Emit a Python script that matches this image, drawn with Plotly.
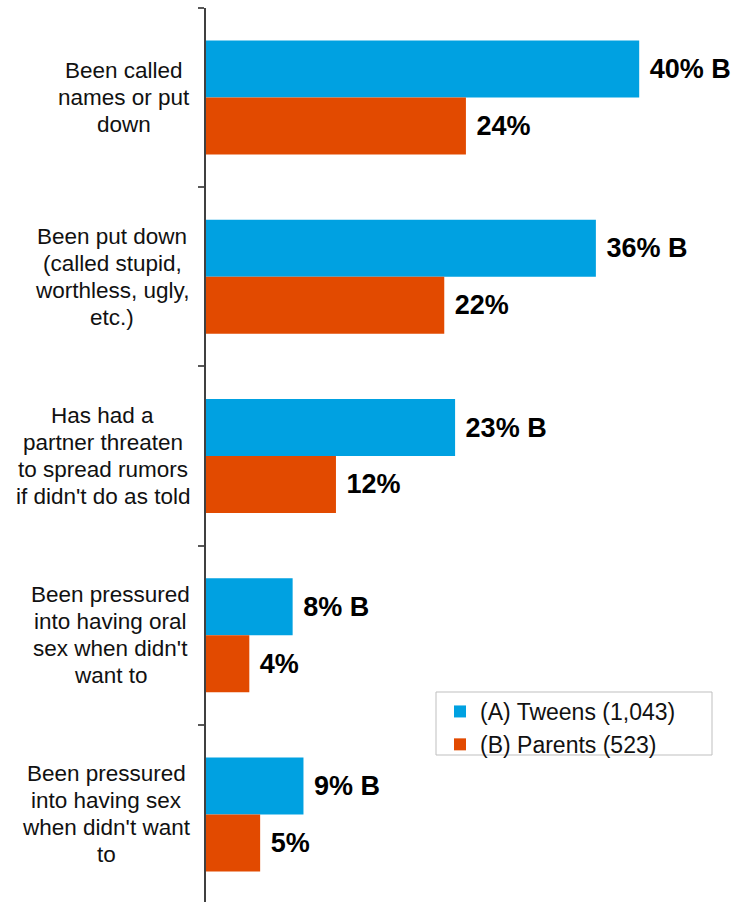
import plotly.graph_objects as go

categories = [
    "Been called<br>names or put<br>down",
    "Been put down<br>(called stupid,<br>worthless, ugly,<br>etc.)",
    "Has had a<br>partner threaten<br>to spread rumors<br>if didn't do as told",
    "Been pressured<br>into having oral<br>sex when didn't<br>want to",
    "Been pressured<br>into having sex<br>when didn't want<br>to",
]
tweens = [40, 36, 23, 8, 9]
parents = [24, 22, 12, 4, 5]
tween_labels = ["40% B", "36% B", "23% B", "8% B", "9% B"]
parent_labels = ["24%", "22%", "12%", "4%", "5%"]
series_names = ["(A) Tweens (1,043)", "(B) Parents (523)"]

BLUE = "#00A1E1"
ORANGE = "#E24A00"
FONT = "Liberation Sans, Arial, sans-serif"

W, H = 731, 902
ML, MR, MT, MB = 206, 0, 8, 0
PW = W - ML - MR
PH = H - MT - MB
BAND = 179.2

# Arial / Liberation Sans advance widths (per 1000 em) for label layout
CW = {c: 556 for c in "abdeghnopqu"}
CW.update({"c": 500, "f": 278, "i": 222, "j": 222, "k": 500, "l": 222, "m": 833,
           "r": 333, "s": 500, "t": 278, "v": 500, "w": 722, "x": 500, "y": 500,
           "z": 500, "B": 667, "H": 722, " ": 278, "(": 333, ")": 333, ",": 278,
           ".": 278, "'": 191})


def text_w(s, size):
    return sum(CW.get(ch, 556) for ch in s) * size / 1000.0


fig = go.Figure()
bold = dict(family=FONT, size=27, color="#000000", weight="bold")
fig.add_trace(go.Bar(
    y=categories, x=tweens, orientation="h", name=series_names[0],
    marker=dict(color=BLUE, line=dict(width=0)),
    text=[" " + t for t in tween_labels], textposition="outside",
    textfont=bold, cliponaxis=False, constraintext="none", textangle=0,
    hoverinfo="skip",
))
fig.add_trace(go.Bar(
    y=categories, x=parents, orientation="h", name=series_names[1],
    marker=dict(color=ORANGE, line=dict(width=0)),
    text=[" " + t for t in parent_labels], textposition="outside",
    textfont=bold, cliponaxis=False, constraintext="none", textangle=0,
    hoverinfo="skip",
))

annotations = []
pitch = 27
LSIZE = 22.5
RIGHT = 190
for cat in categories:
    lines = cat.split("<br>")
    n = len(lines)
    block = max(text_w(ln, LSIZE) for ln in lines)
    cpx = RIGHT - block / 2
    cx = (cpx - ML) / PW
    for i, ln in enumerate(lines):
        shift = ((n - 1) / 2 - i) * pitch
        annotations.append(dict(
            x=cx, xref="paper", y=cat, yref="y", text=ln, showarrow=False,
            xanchor="center", yanchor="middle", yshift=shift,
            font=dict(family=FONT, size=LSIZE, color="#111111"),
        ))

# legend frame
shapes = [dict(
    type="rect", xref="paper", yref="paper",
    x0=(436 - ML) / PW, x1=(712 - ML) / PW,
    y0=1 - (755 - MT) / PH, y1=1 - (692 - MT) / PH,
    line=dict(color="#BFBFBF", width=1), fillcolor="rgba(255,255,255,0)", layer="below",
)]

fig.update_layout(
    width=W, height=H,
    margin=dict(l=ML, r=MR, t=MT, b=MB, pad=0),
    paper_bgcolor="white", plot_bgcolor="white",
    barmode="group", bargap=0.364, bargroupgap=0,
    showlegend=True,
    legend=dict(
        x=(440 - ML) / PW, xanchor="left",
        y=1 - (690 - MT) / PH, yanchor="top",
        borderwidth=0, bgcolor="rgba(0,0,0,0)",
        font=dict(family=FONT, size=23, color="#111111"),
        traceorder="normal",
    ),
    xaxis=dict(range=[0, PW / 10.83], visible=False, showgrid=False, zeroline=False),
    yaxis=dict(
        range=[-0.5 + PH / BAND, -0.5], showticklabels=False,
        showline=True, linecolor="#404040", linewidth=1.5,
        ticks="outside", tickson="boundaries", ticklen=6, tickcolor="#595959", tickwidth=1.5,
        showgrid=False, zeroline=False,
    ),
    annotations=annotations,
    shapes=shapes,
)

fig.write_html("out.html", config={"displayModeBar": False},
               post_script="document.body.style.margin='0';document.body.style.overflow='hidden';")
